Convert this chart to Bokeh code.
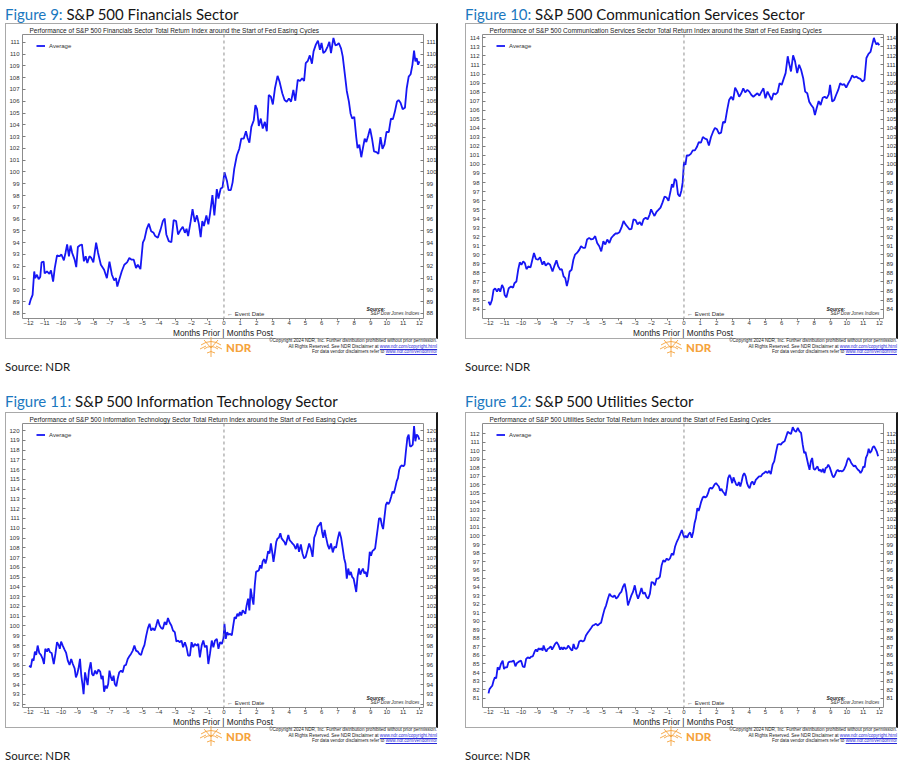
from bokeh.plotting import figure
from bokeh.models import Range1d, LinearAxis, FixedTicker, Span, Label, Div
from bokeh.layouts import column, row
from bokeh.embed import file_html
from bokeh.resources import INLINE

FONT = "Liberation Sans"
LINE_BLUE = "#1616f4"

# ---------------- data (month offset from start of easing cycle, index value) ----------------
month_ticks = list(range(-12, 13))

financials = [
    (-11.96, 88.71), (-11.86, 89.20), (-11.75, 89.57), (-11.65, 91.56), (-11.59, 91.00), (-11.48, 91.28), (-11.38, 90.90), (-11.28, 91.10), (-11.20, 92.33), (-11.07, 92.40),
    (-11.01, 91.40), (-10.87, 91.56), (-10.72, 91.36), (-10.62, 91.65), (-10.49, 90.70), (-10.39, 91.85), (-10.25, 92.93), (-10.10, 92.85), (-9.98, 93.00), (-9.83, 92.50),
    (-9.73, 93.13), (-9.63, 93.85), (-9.52, 92.85), (-9.42, 93.76), (-9.32, 93.13), (-9.17, 92.56), (-9.07, 91.93), (-8.97, 93.64), (-8.84, 93.78), (-8.72, 93.85),
    (-8.60, 92.42), (-8.49, 92.85), (-8.39, 92.28), (-8.26, 92.85), (-8.14, 92.70), (-8.02, 92.33), (-7.85, 94.00), (-7.73, 93.13), (-7.56, 92.13), (-7.36, 91.70),
    (-7.19, 90.99), (-7.03, 92.39), (-6.88, 91.28), (-6.74, 90.79), (-6.63, 91.00), (-6.55, 90.28), (-6.43, 90.85), (-6.28, 91.56), (-6.12, 92.13), (-5.95, 92.33),
    (-5.81, 92.70), (-5.67, 92.56), (-5.54, 92.56), (-5.40, 91.85), (-5.29, 92.13), (-5.13, 91.76), (-4.98, 94.00), (-4.88, 94.30), (-4.74, 95.18), (-4.61, 95.61),
    (-4.47, 94.98), (-4.32, 94.84), (-4.22, 94.56), (-4.06, 94.42), (-3.89, 95.13), (-3.75, 95.84), (-3.64, 96.04), (-3.54, 94.70), (-3.39, 94.13), (-3.23, 94.04),
    (-3.09, 95.92), (-2.94, 95.84), (-2.82, 94.70), (-2.67, 95.07), (-2.53, 95.35), (-2.40, 94.84), (-2.30, 95.18), (-2.20, 94.56), (-2.05, 95.76), (-1.93, 96.84),
    (-1.79, 95.76), (-1.66, 96.32), (-1.54, 95.56), (-1.43, 94.47), (-1.33, 95.84), (-1.23, 95.41), (-1.08, 96.32), (-0.96, 95.56), (-0.86, 96.41), (-0.71, 98.03),
    (-0.59, 96.32), (-0.44, 98.55), (-0.34, 97.75), (-0.20, 98.60), (-0.09, 98.69), (0.03, 99.97), (0.18, 99.26), (0.28, 98.46), (0.42, 98.46), (0.53, 99.12),
    (0.63, 100.26), (0.79, 101.40), (0.94, 101.97), (1.06, 102.82), (1.21, 102.82), (1.35, 103.45), (1.45, 102.88), (1.56, 102.48), (1.68, 103.82), (1.83, 104.39),
    (1.93, 105.67), (2.03, 105.33), (2.14, 103.90), (2.26, 104.53), (2.38, 103.68), (2.51, 104.25), (2.63, 103.45), (2.75, 106.53), (2.88, 106.38), (3.00, 105.73),
    (3.13, 107.10), (3.29, 108.15), (3.41, 107.67), (3.58, 106.67), (3.72, 106.10), (3.85, 105.96), (3.99, 106.24), (4.12, 105.96), (4.26, 106.95), (4.38, 106.04),
    (4.53, 107.81), (4.67, 107.72), (4.80, 107.95), (4.92, 107.72), (5.02, 109.23), (5.15, 109.43), (5.27, 109.89), (5.40, 109.18), (5.50, 110.23), (5.64, 110.80),
    (5.77, 111.14), (5.89, 110.37), (5.99, 110.94), (6.10, 110.09), (6.22, 110.23), (6.37, 110.66), (6.47, 111.03), (6.57, 110.09), (6.72, 111.37), (6.84, 110.74),
    (6.96, 110.80), (7.05, 110.94), (7.19, 110.46), (7.29, 109.80), (7.42, 108.29), (7.54, 106.87), (7.67, 105.96), (7.77, 104.96), (7.87, 104.53), (8.00, 104.67),
    (8.12, 102.96), (8.20, 102.02), (8.31, 102.31), (8.43, 101.25), (8.53, 102.02), (8.64, 102.82), (8.74, 102.54), (8.86, 103.11), (8.97, 103.68), (9.09, 102.82),
    (9.21, 101.74), (9.36, 101.68), (9.48, 101.54), (9.61, 102.96), (9.73, 101.97), (9.85, 102.31), (9.98, 103.39), (10.12, 103.39), (10.25, 104.53), (10.37, 104.47),
    (10.49, 105.10), (10.62, 105.96), (10.72, 106.10), (10.84, 105.87), (10.97, 105.33), (11.11, 105.44), (11.22, 107.10), (11.34, 108.09), (11.46, 108.29), (11.57, 109.09),
    (11.67, 110.29), (11.75, 109.38), (11.83, 109.66), (11.92, 109.09), (12.00, 109.38),
]

comm_services = [
    (-12.00, 84.82), (-11.90, 84.45), (-11.79, 85.00), (-11.69, 86.12), (-11.59, 86.30), (-11.48, 85.93), (-11.38, 86.30), (-11.28, 85.93), (-11.17, 86.68), (-11.07, 86.30),
    (-11.01, 85.56), (-10.90, 85.30), (-10.76, 86.30), (-10.62, 86.49), (-10.49, 86.38), (-10.41, 86.86), (-10.29, 87.05), (-10.18, 88.35), (-10.08, 89.17), (-9.98, 88.91),
    (-9.87, 89.28), (-9.77, 89.09), (-9.67, 88.42), (-9.56, 88.72), (-9.42, 88.61), (-9.31, 89.46), (-9.21, 90.21), (-9.09, 89.54), (-8.96, 89.46), (-8.84, 89.72),
    (-8.69, 88.91), (-8.59, 89.28), (-8.49, 88.80), (-8.34, 89.09), (-8.22, 88.91), (-8.07, 88.16), (-7.97, 88.72), (-7.83, 89.39), (-7.72, 88.72), (-7.60, 88.35),
    (-7.50, 88.42), (-7.39, 87.61), (-7.29, 87.42), (-7.19, 86.56), (-7.10, 87.23), (-7.02, 88.16), (-6.90, 88.35), (-6.79, 89.46), (-6.69, 90.02), (-6.57, 90.21),
    (-6.42, 90.58), (-6.32, 90.95), (-6.19, 90.77), (-6.07, 90.77), (-5.95, 91.70), (-5.82, 91.88), (-5.70, 91.70), (-5.57, 91.77), (-5.45, 92.07), (-5.33, 91.32),
    (-5.20, 90.95), (-5.08, 90.39), (-4.95, 91.51), (-4.83, 91.14), (-4.71, 91.70), (-4.58, 91.32), (-4.46, 91.88), (-4.33, 92.14), (-4.21, 92.36), (-4.09, 92.36),
    (-3.96, 92.51), (-3.84, 93.00), (-3.71, 93.74), (-3.59, 93.37), (-3.47, 93.11), (-3.34, 92.81), (-3.22, 92.88), (-3.10, 93.93), (-2.97, 93.85), (-2.85, 93.37),
    (-2.72, 93.63), (-2.60, 93.26), (-2.48, 93.93), (-2.35, 94.11), (-2.23, 93.93), (-2.10, 94.48), (-2.02, 95.04), (-1.92, 94.67), (-1.81, 94.30), (-1.69, 94.74),
    (-1.57, 94.97), (-1.44, 95.23), (-1.32, 95.78), (-1.19, 96.45), (-1.07, 96.34), (-0.95, 95.97), (-0.82, 97.09), (-0.74, 97.83), (-0.66, 97.46), (-0.57, 98.39),
    (-0.47, 98.20), (-0.37, 96.71), (-0.26, 96.45), (-0.16, 97.09), (-0.08, 98.01), (0.00, 100.25), (0.09, 99.95), (0.17, 100.99), (0.29, 100.99), (0.42, 101.17),
    (0.54, 101.55), (0.67, 101.55), (0.79, 101.92), (0.91, 102.48), (1.04, 102.40), (1.16, 103.03), (1.29, 102.85), (1.41, 102.77), (1.53, 102.10), (1.66, 103.03),
    (1.78, 103.59), (1.90, 104.04), (2.03, 103.89), (2.15, 103.41), (2.28, 103.52), (2.40, 104.71), (2.52, 104.63), (2.65, 106.01), (2.77, 107.12), (2.90, 107.49),
    (3.02, 107.12), (3.14, 108.50), (3.27, 108.05), (3.39, 107.49), (3.52, 107.87), (3.64, 108.42), (3.76, 107.98), (3.89, 108.24), (4.01, 108.05), (4.14, 107.68),
    (4.26, 107.49), (4.38, 107.68), (4.51, 107.87), (4.63, 107.61), (4.76, 108.05), (4.88, 108.42), (5.00, 107.31), (5.13, 108.05), (5.25, 107.61), (5.38, 107.12),
    (5.50, 107.87), (5.62, 107.75), (5.75, 107.98), (5.87, 108.98), (6.00, 108.80), (6.12, 109.46), (6.24, 110.10), (6.37, 111.96), (6.45, 111.21), (6.57, 110.28),
    (6.70, 112.07), (6.82, 111.40), (6.95, 110.10), (7.07, 111.03), (7.19, 110.47), (7.32, 109.54), (7.44, 108.05), (7.57, 107.87), (7.69, 106.94), (7.81, 106.57),
    (7.94, 106.27), (8.04, 105.45), (8.14, 106.19), (8.27, 107.01), (8.39, 106.57), (8.52, 107.38), (8.64, 107.49), (8.76, 107.31), (8.89, 107.75), (8.97, 108.80),
    (9.10, 106.94), (9.22, 107.12), (9.34, 107.68), (9.47, 108.24), (9.59, 108.98), (9.71, 108.80), (9.84, 108.87), (9.96, 108.50), (10.09, 108.98), (10.21, 109.35),
    (10.33, 109.84), (10.46, 109.61), (10.58, 109.72), (10.71, 109.54), (10.83, 109.46), (10.95, 109.17), (11.08, 109.35), (11.20, 111.77), (11.33, 112.22), (11.45, 112.44),
    (11.57, 113.33), (11.66, 114.00), (11.74, 113.55), (11.82, 113.26), (11.90, 113.44), (11.99, 113.18),
]

info_tech = [
    (-11.96, 95.94), (-11.86, 95.77), (-11.77, 96.63), (-11.69, 96.46), (-11.61, 97.38), (-11.53, 97.04), (-11.44, 98.00), (-11.34, 97.24), (-11.24, 97.04), (-11.13, 96.63),
    (-11.05, 96.11), (-10.97, 97.66), (-10.86, 97.38), (-10.78, 97.72), (-10.68, 97.31), (-10.58, 97.24), (-10.45, 96.11), (-10.35, 97.14), (-10.25, 98.34), (-10.14, 98.00),
    (-10.08, 97.66), (-10.00, 98.41), (-9.90, 98.00), (-9.79, 97.59), (-9.69, 97.24), (-9.59, 96.46), (-9.48, 96.01), (-9.38, 96.63), (-9.28, 96.11), (-9.17, 95.67),
    (-9.09, 94.74), (-9.01, 95.09), (-8.93, 95.67), (-8.84, 96.63), (-8.76, 94.91), (-8.68, 93.95), (-8.62, 93.03), (-8.53, 95.26), (-8.45, 94.57), (-8.37, 93.95),
    (-8.29, 95.43), (-8.18, 96.29), (-8.10, 95.09), (-8.02, 94.91), (-7.91, 95.43), (-7.81, 95.09), (-7.71, 95.53), (-7.60, 95.33), (-7.52, 94.57), (-7.44, 94.91),
    (-7.36, 93.27), (-7.27, 93.89), (-7.19, 93.61), (-7.11, 94.06), (-7.03, 95.43), (-6.94, 94.74), (-6.86, 94.40), (-6.78, 94.91), (-6.70, 94.06), (-6.61, 93.82),
    (-6.53, 94.57), (-6.43, 95.26), (-6.32, 95.43), (-6.22, 95.26), (-6.12, 95.94), (-6.02, 96.01), (-5.91, 96.63), (-5.81, 96.90), (-5.71, 97.14), (-5.60, 97.48),
    (-5.50, 98.00), (-5.40, 97.48), (-5.29, 97.38), (-5.19, 97.14), (-5.09, 97.04), (-4.98, 97.66), (-4.88, 98.07), (-4.78, 98.96), (-4.67, 99.78), (-4.57, 100.23),
    (-4.47, 99.54), (-4.36, 99.78), (-4.26, 99.54), (-4.16, 100.05), (-4.06, 100.67), (-3.95, 100.05), (-3.85, 99.78), (-3.75, 99.71), (-3.64, 100.40), (-3.54, 100.12),
    (-3.44, 100.81), (-3.33, 100.33), (-3.23, 100.05), (-3.13, 99.54), (-3.02, 99.37), (-2.92, 98.41), (-2.82, 98.51), (-2.71, 98.34), (-2.61, 98.51), (-2.51, 97.83),
    (-2.40, 98.34), (-2.30, 97.83), (-2.20, 96.97), (-2.09, 96.97), (-1.99, 98.34), (-1.89, 97.83), (-1.79, 98.17), (-1.68, 98.00), (-1.58, 98.17), (-1.48, 96.80),
    (-1.37, 98.00), (-1.27, 98.51), (-1.17, 97.83), (-1.06, 98.00), (-0.96, 96.11), (-0.86, 97.14), (-0.75, 98.51), (-0.65, 97.83), (-0.55, 98.51), (-0.44, 98.68),
    (-0.34, 97.66), (-0.24, 98.34), (-0.13, 98.17), (-0.03, 98.75), (0.03, 100.23), (0.11, 98.68), (0.20, 99.37), (0.28, 99.10), (0.38, 99.20), (0.48, 99.03),
    (0.57, 100.05), (0.65, 100.91), (0.73, 100.74), (0.82, 101.25), (0.90, 101.01), (0.98, 101.43), (1.06, 101.08), (1.15, 101.60), (1.23, 101.43), (1.31, 101.25),
    (1.39, 102.11), (1.48, 102.80), (1.56, 101.60), (1.64, 103.82), (1.72, 102.97), (1.81, 102.18), (1.89, 104.17), (1.97, 105.54), (2.05, 105.61), (2.14, 105.71),
    (2.22, 106.22), (2.30, 105.88), (2.38, 106.63), (2.47, 106.84), (2.55, 106.39), (2.63, 106.91), (2.71, 107.66), (2.80, 107.42), (2.88, 108.45), (2.96, 107.59),
    (3.04, 106.57), (3.13, 107.59), (3.21, 108.62), (3.29, 108.96), (3.37, 109.03), (3.46, 109.48), (3.54, 108.96), (3.62, 108.79), (3.70, 108.62), (3.79, 108.28),
    (3.87, 108.79), (3.95, 109.31), (4.03, 108.79), (4.12, 108.62), (4.20, 108.45), (4.30, 108.28), (4.41, 107.87), (4.51, 108.45), (4.61, 107.59), (4.72, 108.35),
    (4.82, 107.42), (4.92, 106.91), (5.02, 107.08), (5.13, 107.77), (5.23, 108.45), (5.33, 107.94), (5.44, 107.08), (5.54, 109.03), (5.64, 109.48), (5.75, 110.16),
    (5.85, 110.34), (5.95, 110.61), (6.02, 109.65), (6.10, 109.03), (6.18, 109.82), (6.26, 109.14), (6.37, 108.28), (6.47, 107.87), (6.57, 108.45), (6.68, 107.53),
    (6.78, 108.11), (6.88, 108.01), (6.99, 108.96), (7.09, 109.65), (7.19, 109.03), (7.29, 107.94), (7.38, 106.91), (7.46, 106.39), (7.54, 104.85), (7.63, 105.88),
    (7.71, 105.20), (7.79, 105.54), (7.87, 105.02), (7.96, 104.85), (8.04, 104.17), (8.12, 103.48), (8.20, 105.02), (8.29, 105.88), (8.37, 105.26), (8.45, 105.61),
    (8.53, 105.88), (8.62, 105.37), (8.70, 105.54), (8.78, 105.02), (8.86, 105.88), (8.95, 107.59), (9.03, 107.18), (9.11, 107.66), (9.19, 107.77), (9.28, 107.94),
    (9.36, 108.96), (9.44, 109.99), (9.52, 111.02), (9.61, 111.02), (9.69, 110.34), (9.77, 109.92), (9.85, 111.09), (9.94, 112.39), (10.02, 112.67), (10.10, 112.46),
    (10.18, 112.73), (10.27, 113.25), (10.35, 113.76), (10.43, 113.59), (10.51, 114.11), (10.60, 114.79), (10.68, 115.13), (10.76, 115.99), (10.84, 116.33), (10.93, 116.44),
    (11.01, 116.33), (11.09, 116.50), (11.17, 117.88), (11.26, 119.25), (11.34, 119.59), (11.42, 118.39), (11.50, 118.39), (11.59, 118.56), (11.67, 120.45), (11.75, 118.90),
    (11.83, 119.59), (11.92, 119.42), (12.00, 119.07),
]

utilities = [
    (-12.00, 81.55), (-11.94, 82.05), (-11.86, 82.25), (-11.77, 82.45), (-11.69, 83.04), (-11.61, 83.43), (-11.53, 83.31), (-11.44, 84.61), (-11.34, 84.33), (-11.24, 85.00),
    (-11.13, 85.39), (-11.05, 84.41), (-10.97, 84.61), (-10.86, 84.61), (-10.78, 85.19), (-10.68, 85.27), (-10.58, 85.27), (-10.45, 85.39), (-10.35, 84.72), (-10.25, 85.12),
    (-10.14, 85.27), (-10.00, 85.39), (-9.90, 84.72), (-9.79, 84.61), (-9.69, 85.59), (-9.59, 85.78), (-9.48, 85.67), (-9.38, 85.86), (-9.28, 85.90), (-9.17, 86.45),
    (-9.09, 86.69), (-9.01, 86.45), (-8.93, 86.84), (-8.84, 86.69), (-8.76, 86.84), (-8.68, 86.57), (-8.62, 87.16), (-8.53, 86.69), (-8.45, 86.45), (-8.37, 86.76),
    (-8.29, 86.84), (-8.18, 87.08), (-8.10, 86.69), (-8.02, 86.96), (-7.91, 87.35), (-7.81, 87.55), (-7.71, 87.24), (-7.60, 86.69), (-7.52, 86.96), (-7.44, 86.69),
    (-7.36, 86.96), (-7.27, 86.76), (-7.19, 86.84), (-7.11, 87.16), (-7.03, 86.96), (-6.94, 86.69), (-6.86, 86.57), (-6.78, 87.35), (-6.70, 86.84), (-6.61, 86.76),
    (-6.53, 86.96), (-6.43, 87.63), (-6.32, 87.75), (-6.22, 87.63), (-6.12, 87.75), (-6.02, 88.33), (-5.91, 88.65), (-5.81, 88.92), (-5.71, 89.20), (-5.60, 89.51),
    (-5.50, 89.59), (-5.40, 89.71), (-5.29, 89.51), (-5.19, 89.71), (-5.09, 89.83), (-4.98, 90.69), (-4.88, 91.40), (-4.78, 91.87), (-4.67, 92.65), (-4.57, 93.24),
    (-4.47, 92.97), (-4.36, 92.85), (-4.26, 93.04), (-4.16, 92.65), (-4.06, 92.85), (-3.95, 93.24), (-3.85, 93.44), (-3.75, 94.02), (-3.64, 94.42), (-3.54, 93.44),
    (-3.44, 91.87), (-3.33, 92.46), (-3.23, 93.04), (-3.13, 93.44), (-3.02, 94.22), (-2.92, 93.24), (-2.82, 92.65), (-2.71, 93.24), (-2.61, 93.91), (-2.51, 93.24),
    (-2.40, 93.36), (-2.30, 92.85), (-2.20, 92.65), (-2.09, 93.24), (-1.99, 94.61), (-1.89, 94.53), (-1.79, 94.22), (-1.68, 95.01), (-1.58, 95.01), (-1.48, 95.20),
    (-1.37, 96.58), (-1.27, 97.16), (-1.17, 96.97), (-1.06, 97.36), (-0.96, 97.16), (-0.86, 97.36), (-0.75, 97.95), (-0.65, 97.75), (-0.55, 98.73), (-0.44, 99.32),
    (-0.34, 99.72), (-0.24, 100.19), (-0.13, 100.70), (-0.03, 100.03), (0.03, 99.79), (0.11, 100.03), (0.20, 99.79), (0.28, 100.19), (0.38, 100.42), (0.48, 99.79),
    (0.57, 100.50), (0.65, 101.48), (0.73, 102.07), (0.82, 103.25), (0.90, 102.93), (0.98, 103.44), (1.06, 104.03), (1.15, 104.50), (1.23, 104.62), (1.31, 104.50),
    (1.39, 104.62), (1.48, 105.01), (1.56, 105.52), (1.64, 105.68), (1.72, 105.52), (1.81, 105.80), (1.89, 106.07), (1.97, 106.19), (2.05, 106.00), (2.14, 105.80),
    (2.22, 105.29), (2.30, 105.52), (2.38, 105.21), (2.47, 105.01), (2.55, 104.74), (2.63, 105.60), (2.71, 106.78), (2.80, 107.17), (2.88, 106.78), (2.96, 106.19),
    (3.04, 106.86), (3.13, 106.39), (3.21, 106.00), (3.29, 105.92), (3.37, 106.31), (3.46, 105.80), (3.54, 106.39), (3.62, 107.09), (3.70, 107.37), (3.79, 106.98),
    (3.87, 106.19), (3.95, 105.80), (4.03, 105.60), (4.12, 106.19), (4.20, 106.39), (4.30, 106.00), (4.41, 106.58), (4.51, 106.78), (4.61, 106.98), (4.72, 106.98),
    (4.82, 107.25), (4.92, 107.37), (5.02, 107.57), (5.13, 107.37), (5.23, 107.64), (5.33, 107.25), (5.44, 108.35), (5.54, 108.74), (5.64, 109.72), (5.75, 110.70),
    (5.85, 110.78), (5.95, 110.70), (6.02, 110.90), (6.10, 111.02), (6.18, 111.10), (6.26, 111.57), (6.37, 112.20), (6.47, 112.08), (6.57, 111.96), (6.68, 112.75),
    (6.78, 112.35), (6.88, 112.20), (6.99, 112.67), (7.09, 112.27), (7.19, 112.08), (7.29, 110.70), (7.38, 109.72), (7.46, 109.84), (7.54, 109.14), (7.63, 108.35),
    (7.71, 107.76), (7.79, 108.74), (7.87, 109.14), (7.96, 107.88), (8.04, 107.76), (8.12, 107.96), (8.20, 108.15), (8.29, 107.64), (8.37, 107.76), (8.45, 107.49),
    (8.53, 107.88), (8.62, 107.37), (8.70, 107.96), (8.78, 108.04), (8.86, 108.35), (8.95, 108.04), (9.03, 107.57), (9.11, 107.09), (9.19, 106.86), (9.28, 107.17),
    (9.36, 107.57), (9.44, 107.76), (9.52, 107.57), (9.61, 107.64), (9.69, 107.57), (9.77, 107.64), (9.85, 107.88), (9.94, 108.27), (10.02, 108.82), (10.10, 109.14),
    (10.18, 108.94), (10.27, 108.55), (10.35, 108.35), (10.43, 108.15), (10.51, 108.27), (10.60, 107.96), (10.68, 107.76), (10.76, 107.64), (10.84, 107.37), (10.93, 107.64),
    (11.01, 108.15), (11.09, 108.04), (11.17, 109.14), (11.26, 109.53), (11.34, 110.23), (11.42, 109.72), (11.50, 109.92), (11.59, 110.39), (11.67, 110.51), (11.75, 110.23),
    (11.83, 109.92), (11.92, 109.33),
]

fin_ticks = list(range(88, 112))
com_ticks = list(range(84, 115))
it_ticks = list(range(92, 121))
utl_ticks = list(range(81, 113))

panels = [
    ("Figure 9:", "S&amp;P 500 Financials Sector",
     "Performance of S&P 500 Financials Sector Total Return Index around the Start of Fed Easing Cycles",
     financials, (87.57, 111.66), fin_ticks),
    ("Figure 10:", "S&amp;P 500 Communication Services Sector",
     "Performance of S&P 500 Communication Services Sector Total Return Index around the Start of Fed Easing Cycles",
     comm_services, (82.96, 114.37), com_ticks),
    ("Figure 11:", "S&amp;P 500 Information Technology Sector",
     "Performance of S&P 500 Information Technology Sector Total Return Index around the Start of Fed Easing Cycles",
     info_tech, (91.66, 120.72), it_ticks),
    ("Figure 12:", "S&amp;P 500 Utilities Sector",
     "Performance of S&P 500 Utilities Sector Total Return Index around the Start of Fed Easing Cycles",
     utilities, (79.90, 113.18), utl_ticks),
]

FRAME_W = 398
FRAME_H = 282
X_START, X_END = -12.37, 12.25


def style_axis(ax, tick_in, tick_out):
    ax.axis_line_color = None
    ax.major_tick_in = tick_in
    ax.major_tick_out = tick_out
    ax.major_tick_line_color = "#7d7d7d"
    ax.minor_tick_line_color = None
    ax.major_label_text_font = FONT
    ax.major_label_text_font_size = "6px"
    ax.major_label_text_color = "#333333"


def make_fig(chart_title, series, yr, yticks):
    months = [m for m, v in series]
    values = [v for m, v in series]
    p = figure(frame_width=FRAME_W, frame_height=FRAME_H,
               x_range=Range1d(X_START, X_END), y_range=Range1d(*yr),
               output_backend="svg", toolbar_location=None,
               min_border_left=16, min_border_right=15, min_border_top=9, min_border_bottom=18,
               title=chart_title, outline_line_color="#8c8c8c",
               background_fill_color="white", border_fill_color="white")
    p.styles = {"border": "1px solid #a9a9a9", "border-right": "2px solid #1a1a1a"}
    p.xgrid.visible = False
    p.ygrid.visible = False

    p.title.align = "left"
    p.title.offset = 7
    p.title.standoff = 1
    p.title.text_font = FONT
    p.title.text_font_size = "6.5px"
    p.title.text_font_style = "normal"
    p.title.text_color = "#222222"

    xa = p.xaxis[0]
    xa.ticker = FixedTicker(ticks=month_ticks, minor_ticks=[])
    style_axis(xa, 0, 2)
    xa.major_label_standoff = 0
    xa.axis_label = "Months Prior | Months Post"
    xa.axis_label_text_font = FONT
    xa.axis_label_text_font_size = "8.3px"
    xa.axis_label_text_font_style = "normal"
    xa.axis_label_text_color = "#222222"
    xa.axis_label_standoff = 0

    ya = p.yaxis[0]
    ya.ticker = FixedTicker(ticks=yticks, minor_ticks=[])
    style_axis(ya, 3, 0)
    ya.major_label_standoff = 3

    ra = LinearAxis(ticker=FixedTicker(ticks=yticks, minor_ticks=[]))
    style_axis(ra, 3, 0)
    ra.major_label_standoff = 3
    p.add_layout(ra, "right")

    p.add_layout(Span(location=0, dimension="height", line_color="#8f8f8f",
                      line_dash="3 3", line_width=1))

    p.line(months, values, line_color=LINE_BLUE, line_width=1.8, legend_label="Average")
    lg = p.legend[0]
    lg.location = (14, FRAME_H - 6 - 7)
    lg.border_line_color = None
    lg.background_fill_alpha = 0
    lg.padding = 0
    lg.margin = 0
    lg.spacing = 0
    lg.glyph_width = 9
    lg.glyph_height = 7
    lg.label_height = 7
    lg.label_standoff = 4
    lg.label_text_font = FONT
    lg.label_text_font_size = "6px"
    lg.label_text_color = "#333333"

    p.add_layout(Label(x=0, y=yr[0], x_offset=3, y_offset=2, text="\u2190 Event Date",
                       text_font=FONT, text_font_size="6px", text_color="#333333",
                       text_baseline="bottom", text_align="left"))
    p.add_layout(Label(x=X_END, y=yr[0], x_offset=-57, y_offset=10, text="Source:",
                       text_font=FONT, text_font_size="5px", text_font_style="bold italic",
                       text_color="#222222", text_baseline="middle", text_align="left"))
    p.add_layout(Label(x=X_END, y=yr[0], x_offset=-53, y_offset=5, text="S&P Dow Jones Indices",
                       text_font=FONT, text_font_size="4.6px", text_font_style="italic",
                       text_color="#333333", text_baseline="middle", text_align="left"))
    return p


def title_div(num, rest, width, height, line_h):
    html = (f'<div style="font-family:Lato;font-size:15px;line-height:{line_h}px;'
            f'white-space:nowrap;"><span style="color:#1b78c0">{num}</span>'
            f'<span style="color:#151515"> {rest}</span></div>')
    return Div(text=html, width=width, height=height, margin=0, styles={"overflow": "visible"})


ICON = ('<svg width="24" height="22" viewBox="0 0 24 22" '
        'style="position:absolute;left:194px;top:-3px">'
        '<g fill="none" stroke="#f5a33c" stroke-width="0.9">'
        '<path d="M2 9 Q12 2 22 9"/><path d="M5 13 Q12 8 19 13"/>'
        '<path d="M12 1 L12 21"/><path d="M5 4 L12 12 L19 4"/>'
        '<path d="M1 13 L7 10 M23 13 L17 10"/><path d="M8 17 Q12 14 16 17"/>'
        '</g></svg>')


def footer_div(width, height):
    link = 'color:#2a2ad8;text-decoration:underline'
    html = (f'<div style="position:relative;width:{width}px;height:{height}px;font-family:{FONT};">'
            '<div style="position:absolute;left:0;top:-1px;width:432px;text-align:right;'
            'font-size:4.6px;line-height:5.5px;color:#222;white-space:nowrap;">'
            '\u00a9Copyright 2024 NDR, Inc. Further distribution prohibited without prior permission.<br>'
            f'All Rights Reserved. See NDR Disclaimer at <span style="{link}">www.ndr.com/copyright.html</span><br>'
            f'For data vendor disclaimers refer to <span style="{link}">www.ndr.com/vendorinfo/</span></div>'
            + ICON +
            '<div style="position:absolute;left:221px;top:2px;font-family:Lato;font-weight:900;'
            'font-size:11.5px;line-height:13px;color:#f5a33c;">NDR</div>'
            '<div style="position:absolute;left:0;top:21px;font-family:Lato;font-size:11.5px;'
            'line-height:14px;color:#1a1a1a;">Source: NDR</div>'
            '</div>')
    return Div(text=html, width=width, height=height, margin=0, styles={"overflow": "visible"})


col_widths = [460, 432, 460, 432]
title_sizes = [(18, 18), (18, 18), (18, 15), (18, 15)]
footer_h = [55, 55, 34, 34]

cols = []
for i, (num, rest, ctitle, series, yr, yt) in enumerate(panels):
    w = col_widths[i]
    th, lh = title_sizes[i]
    fig = make_fig(ctitle, series, yr, yt)
    cols.append(column(title_div(num, rest, w, th, lh), fig, footer_div(w, footer_h[i]),
                       spacing=0))

layout = column(row(cols[0], cols[1], spacing=0), row(cols[2], cols[3], spacing=0),
                spacing=0, margin=(5, 0, 0, 5))

open("out.html", "w").write(file_html(layout, INLINE, title="S&P 500 Sectors around Fed Easing Cycles"))
